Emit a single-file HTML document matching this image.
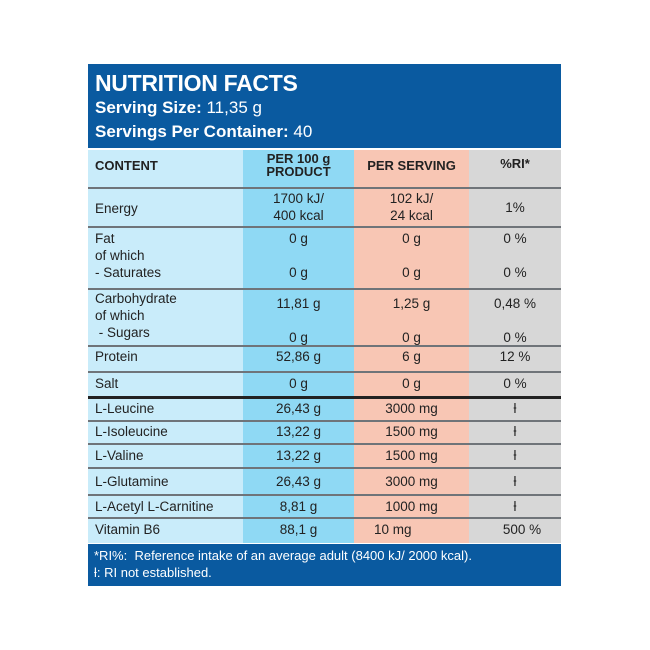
<!DOCTYPE html>
<html><head><style>
body{margin:0;background:#fff;width:650px;height:650px;position:relative;font-family:"Liberation Sans",sans-serif;color:#222}
.a{position:absolute}
.col{position:absolute;top:150px;height:393px}
.hl{position:absolute;left:88px;width:473px;height:2px;background:#6f7479}
.r{position:absolute;left:88px;width:473px;display:flex;font-size:13.5px;line-height:17px}
.r div{box-sizing:border-box}
.c1{width:155px;padding-left:7px}
.c2{width:111px;text-align:center}
.c3{width:115px;text-align:center}
.c4{width:92px;text-align:center}
b{font-weight:bold}
</style></head><body>
<div class="a" style="left:88px;top:64px;width:473px;height:84px;background:#0a5aa0;color:#fff">
<div class="a" style="left:7px;top:6px;font-size:23px;font-weight:bold;letter-spacing:-0.3px">NUTRITION FACTS</div>
<div class="a" style="left:7px;top:34px;font-size:17px"><b>Serving Size:</b> 11,35 g</div>
<div class="a" style="left:7px;top:58px;font-size:17px"><b>Servings Per Container:</b> 40</div>
</div>
<div class="col" style="left:88px;width:155px;background:#c9ecfa"></div>
<div class="col" style="left:243px;width:111px;background:#8fd9f4"></div>
<div class="col" style="left:354px;width:115px;background:#f8c6b4"></div>
<div class="col" style="left:469px;width:92px;background:#d7d7d7"></div>
<div class="hl" style="top:187px"></div>
<div class="hl" style="top:226px"></div>
<div class="hl" style="top:288px"></div>
<div class="hl" style="top:345px"></div>
<div class="hl" style="top:371px"></div>
<div class="hl" style="top:396px;height:3px;background:#222"></div>
<div class="hl" style="top:420px"></div>
<div class="hl" style="top:443px"></div>
<div class="hl" style="top:467px"></div>
<div class="hl" style="top:494px"></div>
<div class="hl" style="top:517px"></div>
<div class="r" style="top:152px;font-weight:bold;font-size:13px;line-height:13px"><div class="c1" style="padding-top:7px">CONTENT</div><div class="c2">PER 100 g<br>PRODUCT</div><div class="c3" style="padding-top:7px">PER SERVING</div><div class="c4" style="padding-top:5px">%RI*</div></div>
<div class="r" style="top:190px"><div class="c1" style="padding-top:10px">Energy</div><div class="c2">1700 kJ/<br>400 kcal</div><div class="c3">102 kJ/<br>24 kcal</div><div class="c4" style="padding-top:9px">1%</div></div>
<div class="r" style="top:230px"><div class="c1">Fat<br>of which<br>- Saturates</div><div class="c2">0 g<br><br>0 g</div><div class="c3">0 g<br><br>0 g</div><div class="c4">0 %<br><br>0 %</div></div>
<div class="r" style="top:290px"><div class="c1">Carbohydrate<br>of which<br>&nbsp;- Sugars</div><div class="c2" style="padding-top:5px">11,81 g<br><br>0 g</div><div class="c3" style="padding-top:5px">1,25 g<br><br>0 g</div><div class="c4" style="padding-top:5px">0,48 %<br><br>0 %</div></div>
<div class="r" style="top:348px"><div class="c1">Protein</div><div class="c2">52,86 g</div><div class="c3">6 g</div><div class="c4">12 %</div></div>
<div class="r" style="top:375px"><div class="c1">Salt</div><div class="c2">0 g</div><div class="c3">0 g</div><div class="c4">0 %</div></div>
<div class="r" style="top:400px"><div class="c1">L-Leucine</div><div class="c2">26,43 g</div><div class="c3">3000 mg</div><div class="c4">ƚ</div></div>
<div class="r" style="top:423px"><div class="c1">L-Isoleucine</div><div class="c2">13,22 g</div><div class="c3">1500 mg</div><div class="c4">ƚ</div></div>
<div class="r" style="top:447px"><div class="c1">L-Valine</div><div class="c2">13,22 g</div><div class="c3">1500 mg</div><div class="c4">ƚ</div></div>
<div class="r" style="top:473px"><div class="c1">L-Glutamine</div><div class="c2">26,43 g</div><div class="c3">3000 mg</div><div class="c4">ƚ</div></div>
<div class="r" style="top:498px"><div class="c1" style="white-space:nowrap">L-Acetyl L-Carnitine</div><div class="c2">8,81 g</div><div class="c3">1000 mg</div><div class="c4">ƚ</div></div>
<div class="r" style="top:521px"><div class="c1">Vitamin B6</div><div class="c2">88,1 g</div><div class="c3" style="text-align:left;padding-left:20px">10 mg</div><div class="c4" style="padding-left:14px">500 %</div></div>
<div class="a" style="left:88px;top:544px;width:473px;height:42px;background:#0a5aa0;color:#fff;font-size:13px;line-height:17px">
<div style="padding:3px 0 0 6px">*RI%:&nbsp; Reference intake of an average adult (8400 kJ/ 2000 kcal).<br>ƚ: RI not established.</div>
</div>
</body></html>
